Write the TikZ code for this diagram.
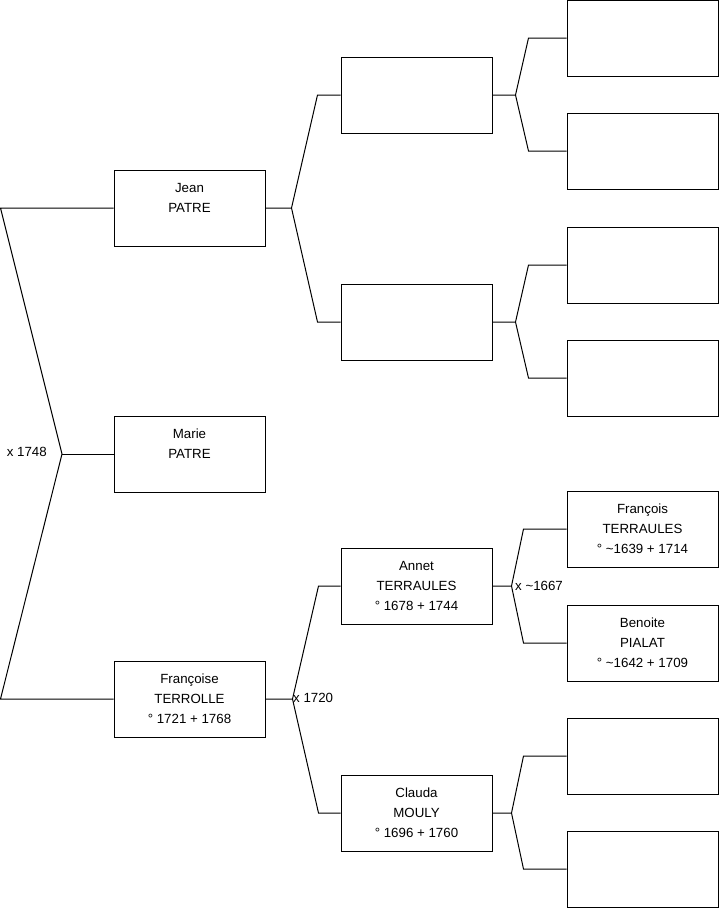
\documentclass[tikz,border=0pt]{standalone}
\usepackage{fontspec}
\setmainfont{Liberation Sans}
\begin{document}
\begin{tikzpicture}[x=1pt,y=-1pt,
  pbox/.style={draw, line width=1pt, minimum width=151pt, minimum height=76pt,
    inner sep=0pt, align=center, font=\fontsize{13.3}{20}\selectfont},
  link/.style={draw, line width=1pt, line join=miter},
  mlabel/.style={inner sep=0pt, font=\fontsize{13.3}{15}\selectfont}]
\useasboundingbox (0,0) rectangle (719,908);
% generation 0
\node[pbox] (jean) at (189.5,208) {Jean\\PATRE\\\rule{0pt}{8pt}};
\node[pbox] (marie) at (189.5,454) {Marie\\PATRE\\\rule{0pt}{8pt}};
\node[pbox] (fra) at (189.5,699) {Françoise\\TERROLLE\\° 1721 + 1768};
% generation 1
\node[pbox] (jf) at (416.5,95) {};
\node[pbox] (jm) at (416.5,322) {};
\node[pbox] (annet) at (416.5,586) {Annet\\TERRAULES\\° 1678 + 1744};
\node[pbox] (claude) at (416.5,813) {Clauda\\MOULY\\° 1696 + 1760};
% generation 2
\node[pbox] (g1) at (642.5,38) {};
\node[pbox] (g2) at (642.5,151) {};
\node[pbox] (g3) at (642.5,265) {};
\node[pbox] (g4) at (642.5,378) {};
\node[pbox] (francois) at (642.5,529) {François\\TERRAULES\\° \textasciitilde1639 + 1714};
\node[pbox] (benoite) at (642.5,643) {Benoite\\PIALAT\\° \textasciitilde1642 + 1709};
\node[pbox] (g7) at (642.5,756) {};
\node[pbox] (g8) at (642.5,869) {};
% root bracket
\coordinate (rl1) at (0.5,208);
\coordinate (rl2) at (0.5,699);
\coordinate (rv) at (62,454);
\path[link] (jean.west) -- (rl1) -- (rv) -- (rl2) -- (fra.west);
\path[link] (rv) -- (marie.west);
\node[mlabel, anchor=east] (m0) at (47,452) {x 1748};
% Jean's parents
\coordinate (jv) at ([xshift=26pt]jean.east);
\path[link] (jean.east) -- (jv) -- ([xshift=-23pt]jf.west) -- (jf.west);
\path[link] (jv) -- ([xshift=-23pt]jm.west) -- (jm.west);
% Francoise's parents
\coordinate (fv) at ([xshift=27pt]fra.east);
\path[link] (fra.east) -- (fv) -- ([xshift=-22pt]annet.west) -- (annet.west);
\path[link] (fv) -- ([xshift=-22pt]claude.west) -- (claude.west);
\node[mlabel, anchor=west] (m1) at (293,698) {x 1720};
% generation 1 to 2
\coordinate (v1) at ([xshift=23pt]jf.east);
\path[link] (jf.east) -- (v1) -- ([xshift=-38pt]g1.west) -- (g1.west);
\path[link] (v1) -- ([xshift=-38pt]g2.west) -- (g2.west);
\coordinate (v2) at ([xshift=23pt]jm.east);
\path[link] (jm.east) -- (v2) -- ([xshift=-38pt]g3.west) -- (g3.west);
\path[link] (v2) -- ([xshift=-38pt]g4.west) -- (g4.west);
\coordinate (v3) at ([xshift=19pt]annet.east);
\path[link] (annet.east) -- (v3) -- ([xshift=-43pt]francois.west) -- (francois.west);
\path[link] (v3) -- ([xshift=-43pt]benoite.west) -- (benoite.west);
\node[mlabel, anchor=west] (m2) at (515,586) {x \textasciitilde1667};
\coordinate (v4) at ([xshift=19pt]claude.east);
\path[link] (claude.east) -- (v4) -- ([xshift=-43pt]g7.west) -- (g7.west);
\path[link] (v4) -- ([xshift=-43pt]g8.west) -- (g8.west);
\end{tikzpicture}
\end{document}
